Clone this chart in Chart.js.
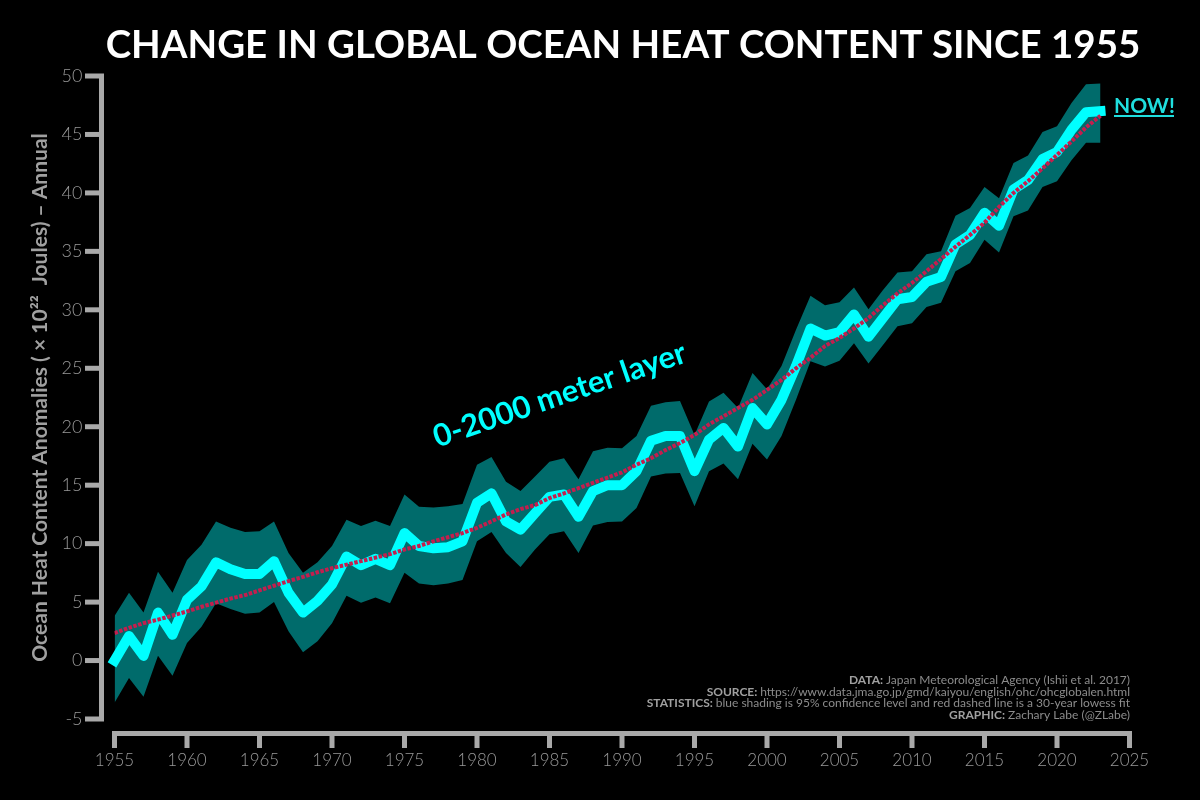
<!DOCTYPE html>
<html lang="en">
<head>
    <meta charset="UTF-8">
    <title>Change in Global Ocean Heat Content Since 1955</title>
    <script src="https://cdn.jsdelivr.net/npm/chart.js"></script>
    <style>
        html, body { margin: 0; background: #000; }
        canvas { display: block; }
    </style>
</head>
<body>
<canvas id="ohcChart" width="1200" height="800"></canvas>

<script>
    const years = [1955,1956,1957,1958,1959,1960,1961,1962,1963,1964,1965,1966,1967,1968,1969,
        1970,1971,1972,1973,1974,1975,1976,1977,1978,1979,1980,1981,1982,1983,1984,1985,1986,1987,1988,1989,
        1990,1991,1992,1993,1994,1995,1996,1997,1998,1999,2000,2001,2002,2003,2004,2005,2006,2007,2008,2009,
        2010,2011,2012,2013,2014,2015,2016,2017,2018,2019,2020,2021,2022,2023];

    const ohcMean = [0.0,2.1,0.4,4.1,2.2,5.2,6.35,8.4,7.8,7.4,7.4,8.5,5.8,4.1,5.1,
        6.5,8.9,8.15,8.7,8.15,10.9,9.8,9.6,9.7,10.2,13.5,14.3,11.9,11.2,12.6,14.0,14.2,12.3,14.5,15.0,
        15.0,16.2,18.8,19.2,19.2,16.2,18.9,19.9,18.3,21.6,20.2,22.3,25.2,28.4,27.8,28.1,29.6,27.7,29.3,30.9,
        31.1,32.4,32.8,35.6,36.4,38.3,37.2,40.3,41.1,42.9,43.5,45.4,46.9,47.0];

    const ohcUpper = [3.8,5.8,4.1,7.6,5.8,8.6,9.9,11.9,11.35,11.0,11.05,11.9,9.2,7.5,8.4,
        9.8,12.05,11.5,11.95,11.5,14.2,13.15,13.1,13.2,13.4,16.75,17.4,15.3,14.5,15.75,17.0,17.3,15.5,17.9,18.2,
        18.15,19.2,21.8,22.1,22.2,19.3,22.15,22.9,21.6,24.6,23.2,25.2,28.3,31.2,30.4,30.65,31.9,30.05,31.7,33.2,
        33.3,34.75,35.0,38.05,38.7,40.5,39.55,42.55,43.2,45.2,45.7,47.7,49.3,49.35];

    const ohcLower = [-3.6,-1.5,-3.1,0.4,-1.3,1.5,2.9,4.9,4.4,4.0,4.1,5.0,2.5,0.7,1.65,
        3.2,5.55,4.95,5.4,4.9,7.5,6.6,6.45,6.6,6.9,10.2,11.0,9.2,8.0,9.5,10.8,11.05,9.2,11.55,11.85,
        11.9,13.05,15.75,16.0,16.05,13.2,16.2,16.85,15.5,18.55,17.2,19.2,22.3,25.6,25.15,25.65,27.15,25.4,27.0,28.6,
        28.85,30.25,30.6,33.3,34.0,36.0,34.9,38.0,38.5,40.5,41.0,42.8,44.3,44.3];

    const lowessFit = [2.35,2.8,3.2,3.5,3.85,4.2,4.6,4.95,5.3,5.6,6.0,6.4,6.8,7.15,7.55,
        7.9,8.2,8.5,8.8,9.1,9.5,9.8,10.2,10.55,10.9,11.35,11.9,12.5,12.95,13.3,13.9,14.3,14.75,15.2,15.65,
        16.1,16.75,17.3,18.0,18.6,19.3,20.2,20.9,21.6,22.3,23.15,24.0,25.0,25.9,26.9,27.6,28.4,29.3,30.4,31.4,
        32.3,33.3,34.35,35.4,36.4,37.45,38.8,40.0,41.0,42.1,43.25,44.4,45.6,46.6];

    const creditLines = [
        ['DATA:', 'Japan Meteorological Agency (Ishii et al. 2017)'],
        ['SOURCE:', 'https://www.data.jma.go.jp/gmd/kaiyou/english/ohc/ohcglobalen.html'],
        ['STATISTICS:', 'blue shading is 95% confidence level and red dashed line is a 30-year lowess fit'],
        ['GRAPHIC:', 'Zachary Labe (@ZLabe)']
    ];

    const FONT = 'Lato, "Open Sans", sans-serif';
    const AXIS_GREY = '#a9a9a9';

    function toPoints(values) {
        return values.map((v, i) => ({ x: years[i], y: v }));
    }

    // spines sit away from the plot, so they are drawn here from the scales
    const detachedAxes = {
        id: 'detachedAxes',
        beforeDatasetsDraw(chart) {
            const { ctx, scales: { x, y } } = chart;
            ctx.save();
            ctx.fillStyle = AXIS_GREY;
            const top = y.getPixelForValue(50), bottom = y.getPixelForValue(-5);
            ctx.fillRect(99, top - 2.5, 5, bottom - top + 5);
            y.ticks.forEach(t => {
                ctx.fillRect(85, y.getPixelForValue(t.value) - 2.5, 14, 5);
            });
            const left = x.getPixelForValue(1955), right = x.getPixelForValue(2025);
            ctx.fillRect(left - 2.5, 731, right - left + 5, 5);
            x.ticks.forEach(t => {
                ctx.fillRect(x.getPixelForValue(t.value) - 2.5, 731, 5, 17);
            });
            ctx.restore();
        }
    };

    const annotations = {
        id: 'annotations',
        afterDatasetsDraw(chart) {
            const { ctx, scales: { x, y } } = chart;
            ctx.save();

            // page title, centred on the whole canvas and not the plot
            ctx.font = 'bold 38.5px ' + FONT;
            ctx.fillStyle = '#ffffff';
            ctx.textAlign = 'center';
            ctx.textBaseline = 'middle';
            ctx.fillText('CHANGE IN GLOBAL OCEAN HEAT CONTENT SINCE 1955', 623, 46);

            // rotated layer label
            ctx.translate(x.getPixelForValue(1985.7), y.getPixelForValue(22.7));
            ctx.rotate(-19 * Math.PI / 180);
            ctx.font = 'bold 31px ' + FONT;
            ctx.fillStyle = '#00ffff';
            ctx.fillText('0-2000 meter layer', 0, 0);
            ctx.setTransform(1, 0, 0, 1, 0, 0);

            // NOW! with underline
            ctx.font = 'bold 21px ' + FONT;
            ctx.fillStyle = '#1fdede';
            ctx.textAlign = 'left';
            ctx.textBaseline = 'alphabetic';
            ctx.fillText('NOW!', 1114, 113);
            ctx.fillRect(1114, 115, 60, 2);

            // credits, right aligned, bold label then light text
            creditLines.forEach((line, i) => {
                const py = 684 + i * 11.7;
                ctx.font = '12px ' + FONT;
                const w2 = ctx.measureText(line[1]).width;
                ctx.font = 'bold 12px ' + FONT;
                const w1 = ctx.measureText(line[0] + ' ').width;
                const start = 1130 - w1 - w2;
                ctx.fillStyle = '#a0a0a0';
                ctx.fillText(line[0], start, py);
                ctx.font = '12px ' + FONT;
                ctx.fillStyle = '#8c8c8c';
                ctx.fillText(line[1], start + w1, py);
            });
            ctx.restore();
        }
    };

    new Chart(document.getElementById('ohcChart'), {
        type: 'line',
        data: {
            datasets: [
                { label: 'Upper', data: toPoints(ohcUpper), borderWidth: 0, pointRadius: 0, tension: 0,
                  backgroundColor: '#006b6b', fill: '+1', order: 3 },
                { label: 'Lower', data: toPoints(ohcLower), borderWidth: 0, pointRadius: 0, tension: 0,
                  fill: false, order: 3 },
                { label: 'Annual', data: toPoints(ohcMean), borderColor: '#00ffff', borderWidth: 10,
                  pointRadius: 0, tension: 0, fill: false, clip: false,
                  borderJoinStyle: 'round', borderCapStyle: 'square', order: 2 },
                { label: 'Lowess', data: toPoints(lowessFit), borderColor: '#c41e4e', borderWidth: 4,
                  borderDash: [3.5, 1.5], pointRadius: 0, tension: 0, fill: false, order: 1 }
            ]
        },
        options: {
            responsive: false,
            animation: false,
            devicePixelRatio: 1,
            layout: { padding: { left: 0, right: 70.5, top: 76, bottom: 0 } },
            plugins: {
                legend: { display: false },
                tooltip: { enabled: false },
                title: { display: false }
            },
            scales: {
                x: {
                    type: 'linear',
                    min: 1955,
                    max: 2025,
                    border: { display: false },
                    grid: { display: false, drawTicks: false },
                    ticks: {
                        stepSize: 5,
                        autoSkip: false,
                        maxRotation: 0,
                        padding: 31,
                        color: '#999999',
                        font: { family: FONT, size: 17, weight: '300' },
                        callback: v => String(v)
                    },
                    afterFit(s) { s.height = 81; }
                },
                y: {
                    min: -5,
                    max: 50,
                    border: { display: false },
                    grid: { display: false, drawTicks: false },
                    ticks: {
                        stepSize: 5,
                        padding: 32,
                        color: '#999999',
                        font: { family: FONT, size: 18, weight: '300' }
                    },
                    title: {
                        display: true,
                        text: 'Ocean Heat Content Anomalies ( × 10²²  Joules) – Annual',
                        color: '#a0a0a0',
                        font: { family: FONT, size: 21, weight: 'bold' },
                        padding: { top: 28, bottom: 0 }
                    },
                    afterFit(s) { s.width = 114.5; }
                }
            }
        },
        plugins: [detachedAxes, annotations]
    });
</script>
</body>
</html>
